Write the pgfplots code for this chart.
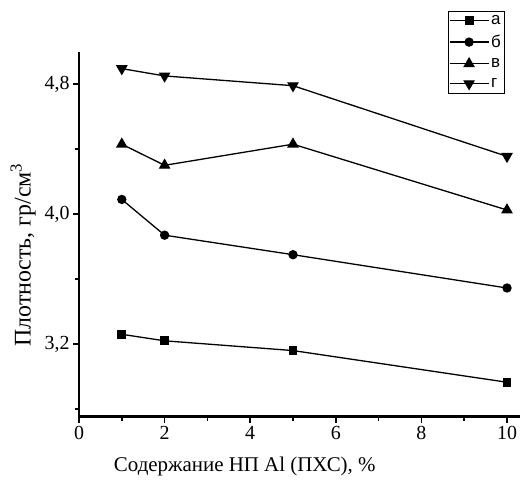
\documentclass[border=0pt]{standalone}
\usepackage{fontspec}
\setmainfont{Liberation Serif}
\newfontfamily\legfont{Liberation Sans}
\usepackage{pgfplots}
\pgfplotsset{compat=1.18}

\begin{document}
\begin{tikzpicture}
\useasboundingbox (0,0) rectangle (521bp,480bp);
\begin{axis}[
  at={(79bp,63.3bp)}, anchor=south west,
  x=42.8bp, y=162.5bp,
  xmin=0, xmax=10.3, ymin=2.753, ymax=5.0,
  axis lines=left,
  axis line style={line width=2.4bp,-},
  tick align=outside,
  major tick length=6bp, minor tick length=4bp,
  every tick/.style={line width=1.6bp,black},
  xtick={0,2,4,6,8,10}, minor xtick={1,3,5,7,9},
  ytick={3.2,4.0,4.8}, minor ytick={2.8,3.6,4.4},
  /pgf/number format/assume math mode=true,
  yticklabel style={/pgf/number format/.cd,use comma,fixed,fixed zerofill,precision=1},
  ticklabel style={font=\fontsize{20}{22}\selectfont},
  xlabel={Содержание НП Al (ПХС), \%},
  ylabel={Плотность, гр/см\textsuperscript{3}},
  xlabel style={font=\fontsize{21}{23}\selectfont,at={(axis description cs:0.376,-0.135)},anchor=center},
  ylabel style={font=\fontsize{24}{26}\selectfont,at={(axis description cs:-0.127,0.443)},anchor=center},
  legend style={at={(axis description cs:0.836,1.112)},anchor=north west,
    font=\legfont\fontsize{17}{19}\selectfont, draw=black, line width=0.8bp,
    inner xsep=1bp, inner ysep=2bp, row sep=5.5bp},
  legend cell align=left,
  legend image code/.code={\draw[mark repeat=2,mark phase=2] plot coordinates {(0bp,0bp) (19.5bp,0bp) (39bp,0bp)};},
  every axis plot/.append style={black, line width=1.3bp},
]
\addplot[mark=square*, mark size=3.8bp] coordinates {(1,3.26) (2,3.22) (5,3.16) (10,2.965)};
\addlegendentry{а}
\addplot[mark=*, mark size=4bp] coordinates {(1,4.09) (2,3.87) (5,3.75) (10,3.545)};
\addlegendentry{б}
\addplot[mark=triangle*, mark size=5.5bp] coordinates {(1,4.43) (2,4.30) (5,4.43) (10,4.025)};
\addlegendentry{в}
\addplot[mark=triangle*, mark options={rotate=180}, mark size=5.5bp] coordinates {(1,4.895) (2,4.85) (5,4.79) (10,4.355)};
\addlegendentry{г}
\end{axis}
\end{tikzpicture}
\end{document}
